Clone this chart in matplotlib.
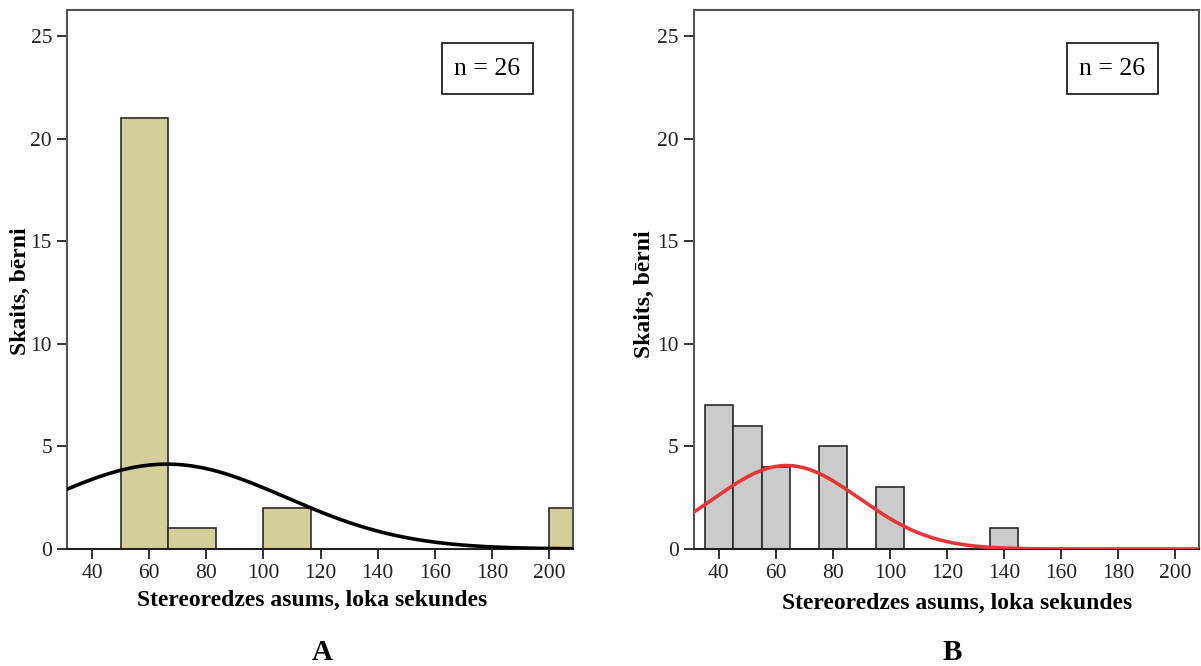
import numpy as np
import matplotlib
matplotlib.use("Agg")
import matplotlib.pyplot as plt
from matplotlib.patches import Rectangle

plt.rcParams["font.family"] = ["Liberation Serif", "DejaVu Serif"]

# dati
n_total = 26
a_bin_left = [50, 66.67, 100, 200]
a_counts = [21, 1, 2, 2]
a_bin_width = 16.67
a_mean, a_sd = 66.2, 41.8

b_bin_center = [40, 50, 60, 80, 100, 140]
b_counts = [7, 6, 4, 5, 3, 1]
b_bin_width = 10
b_mean, b_sd = 63.8, 25.5

x_ticks = [40, 60, 80, 100, 120, 140, 160, 180, 200]
y_ticks = [0, 5, 10, 15, 20, 25]
x_label = "Stereoredzes asums, loka sekundes"
y_label = "Skaits, bērni"

W, H = 1201, 666


def normal_curve(x, mean, sd, width):
    return n_total * width / (sd * np.sqrt(2 * np.pi)) * np.exp(-(x - mean) ** 2 / (2 * sd ** 2))


def style_axes(ax):
    ax.set_xlim(31.3, 208.4)
    ax.set_ylim(0, 26.27)
    ax.set_xticks(x_ticks)
    ax.set_yticks(y_ticks)
    ax.tick_params(direction="out", length=7, width=1.3, labelsize=15.5, colors="#222222", pad=4)
    for s in ax.spines.values():
        s.set_color("#555555")
        s.set_linewidth(1.5)
    ax.spines["bottom"].set_color("#222222")


fig = plt.figure(figsize=(W / 100, H / 100), dpi=100)
ax1 = fig.add_axes([67.3 / W, 1 - 549 / H, 505.7 / W, 539 / H])
ax2 = fig.add_axes([694 / W, 1 - 549 / H, 505 / W, 539 / H])

xs = np.linspace(25, 215, 400)

# A
ax1.bar(a_bin_left, a_counts, width=a_bin_width, align="edge",
        color="#d3cf98", edgecolor="#2a2a2a", linewidth=1.2, zorder=2)
ax1.plot(xs, normal_curve(xs, a_mean, a_sd, a_bin_width), color="black", lw=2.6, zorder=3)
style_axes(ax1)

# B
ax2.bar(b_bin_center, b_counts, width=b_bin_width, align="center",
        color="#cbcbcb", edgecolor="#2a2a2a", linewidth=1.2, zorder=2)
ax2.plot(xs, normal_curve(xs, b_mean, b_sd, b_bin_width), color="#e8353b", lw=2.6, zorder=3)
style_axes(ax2)

# n = 26 boksi
for left in [442, 1067]:
    fig.patches.append(Rectangle((left / W, 1 - 94 / H), 91 / W, 51 / H, transform=fig.transFigure,
                                 facecolor="white", edgecolor="#222222", linewidth=1.3, zorder=5))
    fig.text((left + 45.5) / W, 1 - 69 / H, "n = 26", fontsize=18.5, ha="center", va="center", zorder=6)

# nosaukumi
fig.text(20 / W, 1 - 291 / H, y_label, rotation=90, fontsize=17, fontweight="bold",
         ha="center", va="center")
fig.text(644 / W, 1 - 294 / H, y_label, rotation=90, fontsize=17, fontweight="bold",
         ha="center", va="center")
fig.text(312 / W, 1 - 600 / H, x_label, fontsize=17, fontweight="bold", ha="center", va="center")
fig.text(957 / W, 1 - 603 / H, x_label, fontsize=17, fontweight="bold", ha="center", va="center")
fig.text(322 / W, 1 - 652 / H, "A", fontsize=21, fontweight="bold", ha="center", va="center")
fig.text(952 / W, 1 - 652 / H, "B", fontsize=21, fontweight="bold", ha="center", va="center")

fig.savefig("out.png", dpi=100)
